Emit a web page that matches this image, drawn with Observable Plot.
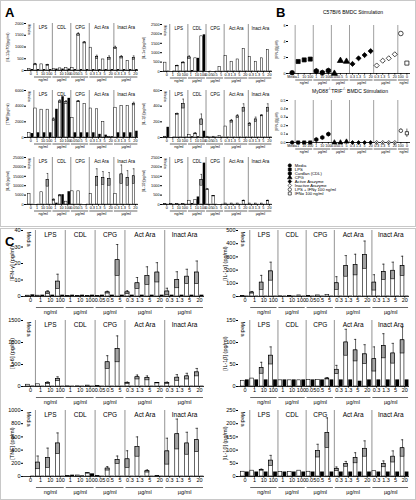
<!DOCTYPE html>
<html><head><meta charset="utf-8">
<script src="https://cdn.jsdelivr.net/npm/d3@7"></script>
<script src="https://cdn.jsdelivr.net/npm/@observablehq/plot@0.6"></script>
<style>
html,body{margin:0;padding:0;background:#fff;}
#fig{position:relative;width:416px;height:500px;font-family:"Liberation Sans",Arial,sans-serif;overflow:hidden;background:#fff;}
.box{position:absolute;border:1.5px solid #c8c8c8;box-sizing:border-box;}
.lbl{position:absolute;font-weight:bold;font-size:13px;line-height:13px;}
.ttl{position:absolute;font-size:5px;white-space:nowrap;transform:translateX(-50%);}
</style></head><body><div id="fig"></div>
<script>
// ---------- shared categories ----------
const groupNames = ["Media","LPS","CDL","CPG","Act Ara","Inact Ara"];
const groupSizes = [1,3,3,3,4,4];
const groupUnits = ["","ng/ml","µg/ml","µg/ml","µg/ml","µg/ml"];
const doseLabels = ["0","1","10","100","1","10","100","0.05","0.5","5","0.3","1.3","5","20","0.3","1.3","5","20"];

// ---------- Panel A ----------
const aIL12Open  = [60,260,260,230,70,90,100,100,1540,1190,970,570,470,540,970,570,400,540];
const aIL12Err   = [0,40,0,30,0,0,0,0,60,40,0,80,0,80,60,60,0,80];
const aIL12Black = [40,40,40,40,60,60,60,40,40,40,40,40,40,40,40,40,40,40];

const aIL1aOpen  = [470,0,300,470,750,700,1870,0,0,250,820,520,640,1200,760,520,700,1150];
const aIL1aErr   = [0,0,30,40,80,0,0,0,0,0,0,0,0,0,0,0,0,0];
const aIL1aBlack = [20,20,20,20,50,700,1950,10,10,10,20,20,20,20,20,20,20,20];

const aTNFOpen   = [600,3700,3550,3550,2300,4600,4500,2500,4600,4300,3700,3600,2000,100,3800,4000,4050,4300];
const aTNFErr    = [0,0,0,0,200,200,200,0,100,0,0,0,0,0,0,0,0,200];
const aTNFBlack  = [500,600,600,600,3600,5200,5000,600,600,600,600,400,300,100,600,600,600,800];

const aIL1bOpen  = [10,0,300,430,30,50,230,10,10,20,140,210,270,380,170,230,280,380];
const aIL1bErr   = [0,0,10,60,0,10,70,0,0,0,0,20,20,50,20,30,10,50];
const aIL1bBlack = [130,5,5,5,10,10,80,5,5,5,5,5,5,5,5,5,5,5];

const aIL6Open   = [5600,0,6500,13000,2500,4800,1500,7000,7000,0,5600,14500,14000,13500,5600,16000,14000,15000];
const aIL6Err    = [0,0,0,3500,500,500,0,0,0,0,0,4500,3500,3500,0,5000,4000,4000];
const aIL6Black  = [100,100,100,100,700,5200,6800,100,100,100,100,100,100,100,100,100,100,100];

const aIL10Open  = [30,30,30,30,200,250,1300,800,450,0,50,50,50,200,50,50,50,200];
const aIL10Err   = [0,0,0,0,0,0,300,30,20,0,0,0,0,30,0,0,0,30];
const aIL10Black = [10,10,10,10,50,400,2200,10,10,10,10,10,10,10,10,10,10,10];

// ---------- Panel B ----------
const bSlotLabels = ["Media","1","10","100","1","10","100","0.05","0.5","5","0.3","1.3","5","20","0.3","1.3","5","20","100","0"];
const bUnitSizes = [1,3,3,3,4,4,2];
const bUnits = ["","ng/ml","µg/ml","µg/ml","µg/ml","µg/ml","ng/ml"];
const bSeriesSizes = [1,3,3,3,4,4,1,1];
const legendNames = ["Media","LPS","Curdlan (CDL)","CPG","Active Arazyme","Inactive Arazyme","LPS + IFNγ 100 ng/ml","IFNα 100 ng/ml"];
const legendSymbols = ["circle","square","hexagon","triangle","diamond2","diamond2","circle","square"];
const legendFilled = [true,true,true,true,true,false,false,false];
const bWT    = [0.1,1.5,1.7,1.8,0.3,0.1,0.35,0.0,1.6,1.5,1.2,1.9,2.3,2.8,1.0,1.6,1.9,2.4,5.0,1.3];
const bWTErr = [0,0.15,0.1,0.1,0.3,0.05,0.05,0,0.1,0.1,0.1,0.1,0.1,0.1,0.1,0.1,0.1,0.1,0.1,0.15];
const bKO    = [0,0,0,0,0.035,0.06,0.1,0,0,0.01,0,0,0,0,0,0,0,0,0.14,0.11];
const bKOErr = [0,0,0,0,0.01,0.01,0.01,0,0,0.01,0,0,0,0,0,0,0,0,0.02,0.05];

// ---------- Panel C ----------
const cIFNgOpen  = [0.5,0.5,2.5,9,0.3,0.3,0.3,0.3,2.5,22,2.5,8,12.5,14.5,3,10,12,14.5];
const cIFNgErr   = [0,0,1,4.5,0,0,0,0,0.7,9.5,1,3.5,5.5,6,2,5,4.5,7];
const cIFNgBlack = [1,0.8,0.8,0.8,0.8,0.8,0.8,0.8,0.8,0.8,0.8,0.8,0.8,0.8,0.8,0.8,0.8,0.8];

const cIL1aOpen  = [3,30,105,190,2,3,8,3,8,10,100,230,240,315,105,185,195,230];
const cIL1aErr   = [0,8,55,70,0,0,0,0,0,0,50,80,80,105,60,60,65,75];
const cIL1aBlack = [3,3,3,3,3,3,3,3,3,3,3,3,3,3,3,3,3,3];

const cIL6Open   = [40,50,80,170,5,5,20,10,550,850,80,210,190,80,80,200,230,320];
const cIL6Err    = [0,0,25,50,0,0,0,0,150,300,20,50,50,10,20,70,70,90];
const cIL6Black  = [10,8,8,8,8,8,8,8,8,8,8,8,8,8,8,8,8,8];

const cIL1bOpen  = [13,18,42,70,14,14,14,15,15,18,38,100,82,73,62,92,75,105];
const cIL1bErr   = [0,0,13,20,0,0,0,0,0,2,10,30,25,22,28,28,23,30];
const cIL1bBlack = [15,15,15,15,15,15,15,15,15,15,15,15,12,15,15,15,15,15];

const cTNFOpen   = [0,210,280,500,10,15,50,10,120,250,260,450,80,5,380,640,500,550];
const cTNFErr    = [0,100,150,160,0,0,5,0,30,60,130,150,20,0,200,230,170,180];
const cTNFBlack  = [5,5,5,5,20,10,40,5,5,5,5,5,5,5,5,5,5,5];

const cIL10Open  = [18,22,25,60,17,17,22,18,97,165,28,47,70,105,20,47,75,107];
const cIL10Err   = [0,0,3,20,0,0,0,0,25,57,8,10,20,30,0,12,22,32];
const cIL10Black = [17,17,17,17,17,17,17,17,17,17,17,17,17,17,17,17,17,17];

// ---------- helpers ----------
const FONT = '"Liberation Sans", Arial, sans-serif';
const fig = document.getElementById("fig");
function place(el, left, top){ el.style.position="absolute"; el.style.left=left+"px"; el.style.top=top+"px"; fig.appendChild(el); return el; }
function div(cls, html, left, top, w, h){ const d=document.createElement("div"); d.className=cls; d.innerHTML=html; if(w!=null){d.style.width=w+"px";d.style.height=h+"px";} return place(d,left,top); }
function spans(sizes){ let s=0; return sizes.map((n,k)=>{ const g={k,start:s,end:s+n-1,mid:s+(n-1)/2}; s+=n; return g; }); }

function barPanel(c){
  const rows = c.open.map((v,i)=>({i, v, e:c.err[i], b:c.black[i]}));
  const sp = spans(groupSizes).map((g,k)=>({...g, name:groupNames[k], unit:groupUnits[k]}));
  const seps = sp.slice(1).map(g=>g.start-0.5);
  const we = rows.filter(d=>d.e>0);
  const lw = c.lw;
  return Plot.plot({
    width:c.ml+c.fw+c.mr, height:c.mt+c.fh+c.mb,
    marginLeft:c.ml, marginRight:c.mr, marginTop:c.mt, marginBottom:c.mb,
    style:{fontFamily:FONT, background:"transparent", overflow:"visible"},
    x:{domain:[-0.7,17.5]},
    y:{domain:[0,c.yMax]},
    marks:[
      Plot.ruleX(seps, {stroke:"#777", strokeWidth:0.8}),
      Plot.rect(rows, {x1:d=>d.i-0.44, x2:d=>d.i-0.04, y1:0, y2:"v", fill:"white", stroke:"black", strokeWidth:lw}),
      Plot.rect(we, {x1:d=>d.i-0.44, x2:d=>d.i-0.04, y1:d=>Math.max(0,d.v-d.e), y2:"v", fill:"#a3a3a3", stroke:"black", strokeWidth:lw}),
      Plot.ruleX(we, {x:d=>d.i-0.24, y1:"v", y2:d=>d.v+d.e, strokeWidth:lw}),
      Plot.ruleY(we, {y:d=>d.v+d.e, x1:d=>d.i-0.36, x2:d=>d.i-0.12, strokeWidth:lw}),
      Plot.rect(rows, {x1:d=>d.i+0.04, x2:d=>d.i+0.44, y1:0, y2:"b", fill:"black"}),
      Plot.ruleY([0], {strokeWidth:0.8}),
      Plot.axisY({ticks:d3.range(0, c.yMax+c.yStep/2, c.yStep), tickFormat:d=>String(d), tickSize:2, tickPadding:1, fontSize:c.fs,
        label:c.yLabel, labelAnchor:"center", labelArrow:"none", labelOffset:c.lo}),
      Plot.axisX({ticks:d3.range(c.open.length), tickFormat:i=>doseLabels[i], tickSize:1.5, tickPadding:0.5, fontSize:c.fs, label:null}),
      Plot.text(sp.slice(1), {x:"mid", text:"name", frameAnchor:"top", lineAnchor:"top", dy:2, fontSize:c.gfs}),
      Plot.text(["Media"], {x:0, text:d=>d, frameAnchor:"top", rotate:90, textAnchor:"start", dy:1, fontSize:c.fs}),
      Plot.ruleY(sp.slice(1), {y:0, x1:d=>d.start-0.4, x2:d=>d.end+0.4, dy:c.br, strokeWidth:0.6}),
      Plot.text(sp.slice(1), {x:"mid", y:0, text:"unit", dy:c.uo, lineAnchor:"top", fontSize:c.fs})
    ]
  });
}

function dotPanel(c){
  const series = [];
  spans(bSeriesSizes).forEach(g=>{ for(let i=g.start;i<=g.end;i++) series[i]=g.k; });
  const rows = c.vals.map((v,i)=>({i, v, e:c.errs[i], s:series[i]}));
  const sp = spans(bUnitSizes).map((g,k)=>({...g, unit:bUnits[k]}));
  const seps = sp.slice(1).map(g=>g.start-0.5);
  const we = rows.filter(d=>d.e>0);
  return Plot.plot({
    width:c.ml+c.fw+c.mr, height:c.mt+c.fh+c.mb,
    marginLeft:c.ml, marginRight:c.mr, marginTop:c.mt, marginBottom:c.mb,
    style:{fontFamily:FONT, background:"transparent", overflow:"visible"},
    x:{domain:[-0.6,19.6]},
    y:{domain:[0,c.yMax]},
    symbol:{domain:d3.range(legendNames.length), range:legendSymbols},
    color:{type:"identity"},
    marks:[
      Plot.ruleX(seps, {stroke:"#888", strokeWidth:0.8}),
      Plot.ruleX(we, {x:"i", y1:d=>Math.max(0,d.v-d.e), y2:d=>d.v+d.e, strokeWidth:0.6}),
      Plot.ruleY([0], {strokeWidth:0.8}),
      Plot.dot(rows, {x:"i", y:"v", symbol:"s", r:c.r, fill:d=>legendFilled[d.s]?"black":"white", stroke:"black", strokeWidth:0.7}),
      Plot.axisY({ticks:d3.range(0, c.yMax+c.yStep/2, c.yStep), tickFormat:c.fmt, tickSize:2, tickPadding:1, fontSize:c.fs,
        label:c.yLabel, labelAnchor:"center", labelArrow:"none", labelOffset:c.lo}),
      Plot.axisX({ticks:d3.range(c.vals.length), tickFormat:i=>bSlotLabels[i], tickSize:1.5, tickPadding:0.5, fontSize:c.fs, label:null}),
      Plot.ruleY(sp.slice(1), {y:0, x1:d=>d.start-0.4, x2:d=>d.end+0.4, dy:c.br, strokeWidth:0.6}),
      Plot.text(sp.slice(1), {x:"mid", y:0, text:"unit", dy:c.uo, lineAnchor:"top", fontSize:c.fs})
    ]
  });
}

// ---------- frames & letters ----------
div("box","",0,0,416,227);
div("box","",0,228,416,272);
div("lbl","A",5,6);
div("lbl","B",276,6);
div("lbl","C",5,235);

// ---------- Panel A ----------
const aL = {ml:26, mr:1, fw:112, mt:5, fh:47, mb:14, fs:3.8, gfs:4.5, lo:20, br:6.5, uo:8, lw:0.5};
const aR = {...aL, ml:26, mr:2, fw:110};
place(barPanel({...aL, open:aIL12Open, err:aIL12Err, black:aIL12Black, yMax:2000, yStep:500, yLabel:"[IL-12p70](pg/ml)"}), 0, 18);
place(barPanel({...aR, open:aIL1aOpen, err:aIL1aErr, black:aIL1aBlack, yMax:2500, yStep:500, yLabel:"[IL-1α](pg/ml)"}), 136, 19);
place(barPanel({...aL, open:aTNFOpen, err:aTNFErr, black:aTNFBlack, yMax:6000, yStep:2000, yLabel:"[TNF](pg/ml)"}), 0, 85);
place(barPanel({...aR, open:aIL1bOpen, err:aIL1bErr, black:aIL1bBlack, yMax:600, yStep:200, yLabel:"[IL-1β](pg/ml)"}), 136, 85);
place(barPanel({...aL, open:aIL6Open, err:aIL6Err, black:aIL6Black, yMax:25000, yStep:5000, yLabel:"[IL-6](pg/ml)"}), 0, 152);
place(barPanel({...aR, open:aIL10Open, err:aIL10Err, black:aIL10Black, yMax:2500, yStep:500, yLabel:"[IL-10](pg/ml)"}), 136, 152);

// ---------- Panel B ----------
div("ttl","C57Bl/6 BMDC Stimulation",353,9);
div("ttl","MyD88<sup style='font-size:3.5px'>-/-</sup>TRIF<sup style='font-size:3.5px'>-/-</sup> BMDC Stimulation",350,87);
const bC = {ml:16, mr:4, fw:122, mt:5, mb:17, fs:3.6, lo:13, br:6.5, uo:8};
place(dotPanel({...bC, fh:48, vals:bWT, errs:bWTErr, yMax:6, yStep:2, fmt:d=>String(d), yLabel:"[IFN-β](pM)", r:2.3}), 272, 20);
place(dotPanel({...bC, fh:42, vals:bKO, errs:bKOErr, yMax:0.5, yStep:0.1, fmt:d3.format(".1f"), yLabel:"[IFN-β](pM)", r:1.8}), 272, 95);

const legend = Plot.plot({
  width:110, height:42, margin:0,
  style:{fontFamily:FONT, background:"transparent", overflow:"visible"},
  x:{domain:[0,1], axis:null},
  y:{domain:d3.range(legendNames.length), range:[3,39], axis:null},
  symbol:{domain:d3.range(legendNames.length), range:legendSymbols},
  color:{type:"identity"},
  marks:[
    Plot.dot(legendNames, {x:0.03, y:(d,i)=>i, symbol:(d,i)=>i, r:1.7, fill:(d,i)=>legendFilled[i]?"black":"white", stroke:"black", strokeWidth:0.6}),
    Plot.text(legendNames, {x:0.03, y:(d,i)=>i, text:d=>d, textAnchor:"start", dx:5, fontSize:4.2})
  ]
});
place(legend, 286, 158);

// ---------- Panel C ----------
const cL = {ml:23, mr:2, fw:181, mt:4, fh:66, mb:22, fs:5.5, gfs:6.5, lo:13, br:11, uo:13.5, lw:0.6};
const cR = {...cL, ml:30, mr:4, fw:171, lo:15};
place(barPanel({...cL, open:cIFNgOpen, err:cIFNgErr, black:cIFNgBlack, yMax:40, yStep:10, yLabel:"[IFN-γ] (pg/ml)"}), 0, 226);
place(barPanel({...cR, open:cIL1aOpen, err:cIL1aErr, black:cIL1aBlack, yMax:500, yStep:100, yLabel:"[IL-1α] (pg/ml)"}), 208, 226);
place(barPanel({...cL, open:cIL6Open, err:cIL6Err, black:cIL6Black, yMax:1500, yStep:500, yLabel:"[IL-6] (pg/ml)"}), 0, 316);
place(barPanel({...cR, open:cIL1bOpen, err:cIL1bErr, black:cIL1bBlack, yMax:150, yStep:50, yLabel:"[IL-1β] (pg/ml)"}), 208, 316);
place(barPanel({...cL, open:cTNFOpen, err:cTNFErr, black:cTNFBlack, yMax:1000, yStep:200, yLabel:"[TNF] (pg/ml)"}), 0, 406);
place(barPanel({...cR, open:cIL10Open, err:cIL10Err, black:cIL10Black, yMax:250, yStep:50, yLabel:"[IL-10] (pg/ml)"}), 208, 406);
</script></body></html>
